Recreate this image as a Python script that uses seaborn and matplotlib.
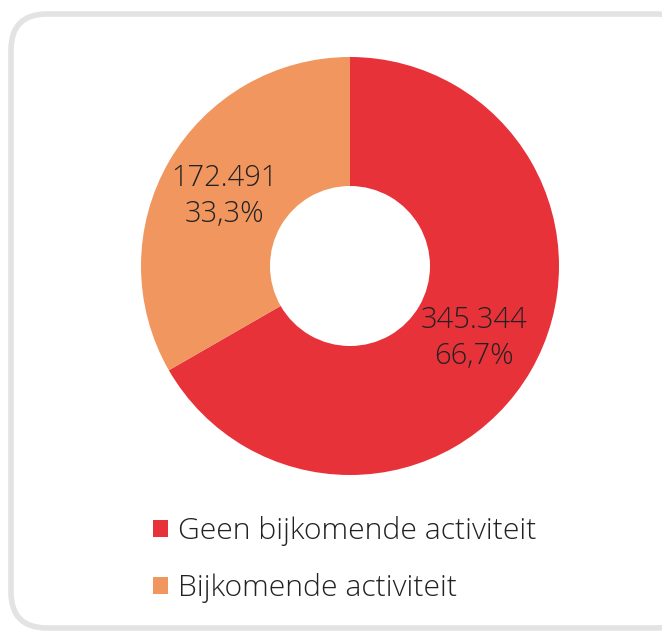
import matplotlib
matplotlib.use("Agg")
import matplotlib.pyplot as plt
from matplotlib.patches import FancyBboxPatch
import seaborn as sns

categories = ["Geen bijkomende activiteit", "Bijkomende activiteit"]
values = [345344, 172491]
value_labels = ["345.344", "172.491"]
pct_labels = ["66,7%", "33,3%"]
colors = ["#E8323A", "#F0965E"]

sns.set_theme(style="white")
plt.rcParams["font.family"] = ["Open Sans", "DejaVu Sans"]

W, H = 662, 631
fig = plt.figure(figsize=(W / 100, H / 100), dpi=100)
ax = fig.add_axes([0, 0, 1, 1])
ax.set_xlim(0, W)
ax.set_ylim(0, H)
ax.set_aspect("equal")
ax.axis("off")

# rounded frame
frame = FancyBboxPatch((11, 3), W - 11 + 30, H - 14 - 3,
                       boxstyle="round,pad=0,rounding_size=36",
                       facecolor="white", edgecolor="#e3e3e3", linewidth=4)
ax.add_patch(frame)

cx, cy, r, r_in = 350, H - 266, 209, 80
wedges, _ = ax.pie(values, colors=colors, startangle=90, counterclock=False,
                   center=(cx, cy), radius=r, frame=True,
                   wedgeprops=dict(width=r - r_in, linewidth=0))
ax.set_xlim(0, W)
ax.set_ylim(0, H)
ax.axis("off")

label_pos = [(474, H - 338), (224, H - 196)]
for (x, y), v, p in zip(label_pos, value_labels, pct_labels):
    ax.text(x, y, f"{v}\n{p}", ha="center", va="center", fontsize=21,
            fontweight="light", color="#222222", linespacing=1.28)

leg = ax.legend(wedges, categories, loc="upper left",
                bbox_to_anchor=(126 / W, 1 - 489 / H), frameon=False,
                prop=dict(size=21.7, weight="light"),
                handlelength=0.48, handleheight=0.48,
                handletextpad=0.36, labelspacing=0.9, labelcolor="#222222")

fig.savefig("out.png", dpi=100)
